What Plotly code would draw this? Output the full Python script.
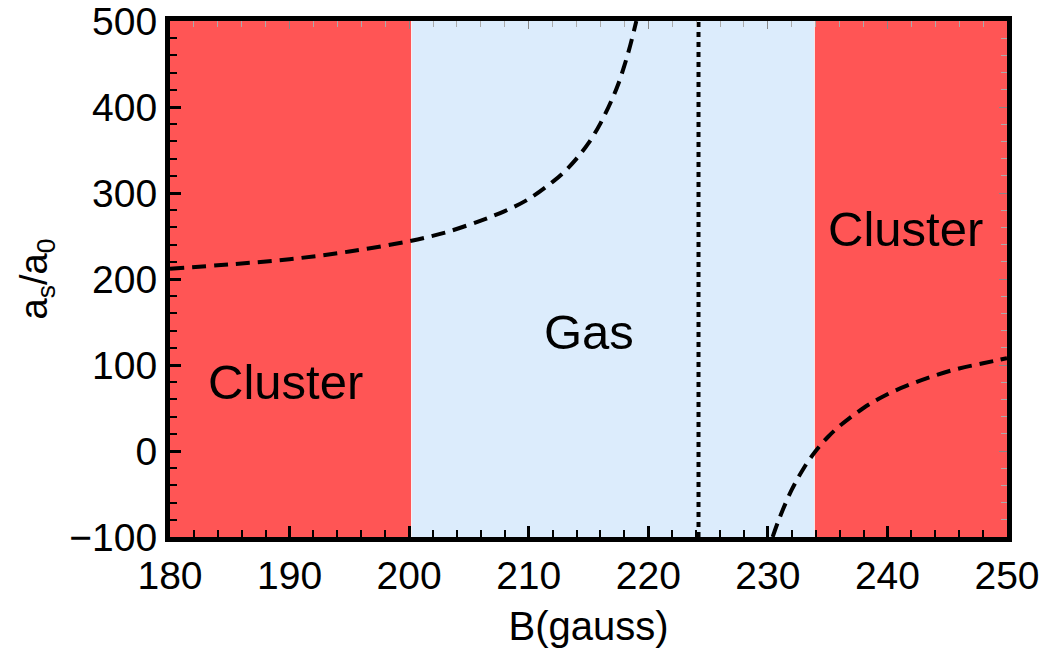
import plotly.graph_objects as go

# ---- data ----
B_low = [180, 185, 190, 195, 200, 203, 206, 208, 210, 212, 213, 214, 215, 216, 217, 217.5, 218, 218.5, 219]
a_low = [212, 217, 223, 232, 244, 254, 268, 279, 293, 313, 325, 340, 358, 381, 410, 427, 448, 472, 500]

B_high = [230.4, 231, 232, 233, 234, 235, 236, 238, 240, 242, 244, 246, 248, 250]
a_high = [-100, -77, -45, -20, 0, 16, 29, 50, 66, 78, 88, 96, 102, 108]

resonance_B = 224.2

region_start = [180, 200.2, 233.9]
region_end = [200.2, 233.9, 250]
region_kind = ["Cluster", "Gas", "Cluster"]

label_text = ["Cluster", "Gas", "Cluster"]
label_B = [189.7, 215.0, 241.5]
label_a = [80, 138, 258]

x_range = [180, 250]
y_range = [-100, 500]

RED = "#FF5555"
BLUE = "#DCECFC"
FONT = "Liberation Sans, Arial, Helvetica, sans-serif"

fig = go.Figure()

for s, e, k in zip(region_start, region_end, region_kind):
    fig.add_trace(go.Scatter(x=[s, e, e, s, s], y=[y_range[0], y_range[0], y_range[1], y_range[1], y_range[0]],
                             mode="lines", fill="toself", fillcolor=RED if k == "Cluster" else BLUE,
                             line=dict(width=0), showlegend=False, hoverinfo="skip"))
for b in [region_start[1], region_start[2]]:
    fig.add_trace(go.Scatter(x=[b, b], y=y_range, mode="lines",
                             line=dict(color="rgba(255,255,255,0.7)", width=1), showlegend=False, hoverinfo="skip"))

fig.add_trace(go.Scatter(x=B_low, y=a_low, mode="lines", line=dict(color="black", width=4, dash="14px,8px", shape="spline"),
                         showlegend=False, hoverinfo="skip"))
fig.add_trace(go.Scatter(x=B_high, y=a_high, mode="lines", line=dict(color="black", width=4, dash="14px,8px", shape="spline"),
                         showlegend=False, hoverinfo="skip"))
fig.add_trace(go.Scatter(x=[resonance_B, resonance_B], y=y_range, mode="lines",
                         line=dict(color="black", width=4, dash="5px,5px"), showlegend=False, hoverinfo="skip"))
# empty trace so the top/right tick axes are drawn
fig.add_trace(go.Scatter(x=[None], y=[None], xaxis="x2", yaxis="y2", showlegend=False, hoverinfo="skip"))

for t, x, y in zip(label_text, label_B, label_a):
    fig.add_annotation(x=x, y=y, xref="x", yref="y", text=t, showarrow=False,
                       font=dict(family=FONT, size=49, color="black"))

fig.update_layout(
    width=1042, height=655,
    margin=dict(l=170, r=35, t=21, b=118),
    paper_bgcolor="white", plot_bgcolor="white",
    font=dict(family=FONT, color="black"),
    xaxis=dict(range=x_range, showgrid=False, zeroline=False, automargin=False,
               showline=True, linecolor="black", linewidth=5, mirror=True,
               ticks="inside", ticklen=11, tickwidth=3, tickcolor="black",
               dtick=10, tick0=180, tickfont=dict(size=39, family=FONT), ticklabeloverflow="allow",
               minor=dict(ticks="inside", ticklen=7, tickwidth=2, tickcolor="black", dtick=2),
               title=dict(text="B(gauss)", font=dict(size=40, family=FONT), standoff=18)),
    yaxis=dict(range=y_range, showgrid=False, zeroline=False, automargin=False,
               showline=True, linecolor="black", linewidth=5, mirror=True,
               ticks="inside", ticklen=11, tickwidth=3, tickcolor="black",
               dtick=100, tick0=0, tickfont=dict(size=39, family=FONT), ticklabeloverflow="allow",
               minor=dict(ticks="inside", ticklen=7, tickwidth=2, tickcolor="black", dtick=20),
               title=dict(text="a<sub>s</sub>/a<sub>0</sub>", font=dict(size=38, family=FONT), standoff=12)),
    xaxis2=dict(range=x_range, overlaying="x", side="top", showgrid=False, zeroline=False, automargin=False,
                showticklabels=False, ticks="inside", ticklen=8, tickwidth=1, tickcolor="#888888",
                dtick=10, tick0=180, minor=dict(ticks="inside", ticklen=6, tickwidth=1, tickcolor="#aaaaaa", dtick=2)),
    yaxis2=dict(range=y_range, overlaying="y", side="right", showgrid=False, zeroline=False, automargin=False,
                showticklabels=False, ticks="inside", ticklen=8, tickwidth=1, tickcolor="#888888",
                dtick=100, tick0=0, minor=dict(ticks="inside", ticklen=6, tickwidth=1, tickcolor="#aaaaaa", dtick=20)),
)

fig.write_html("out.html")
